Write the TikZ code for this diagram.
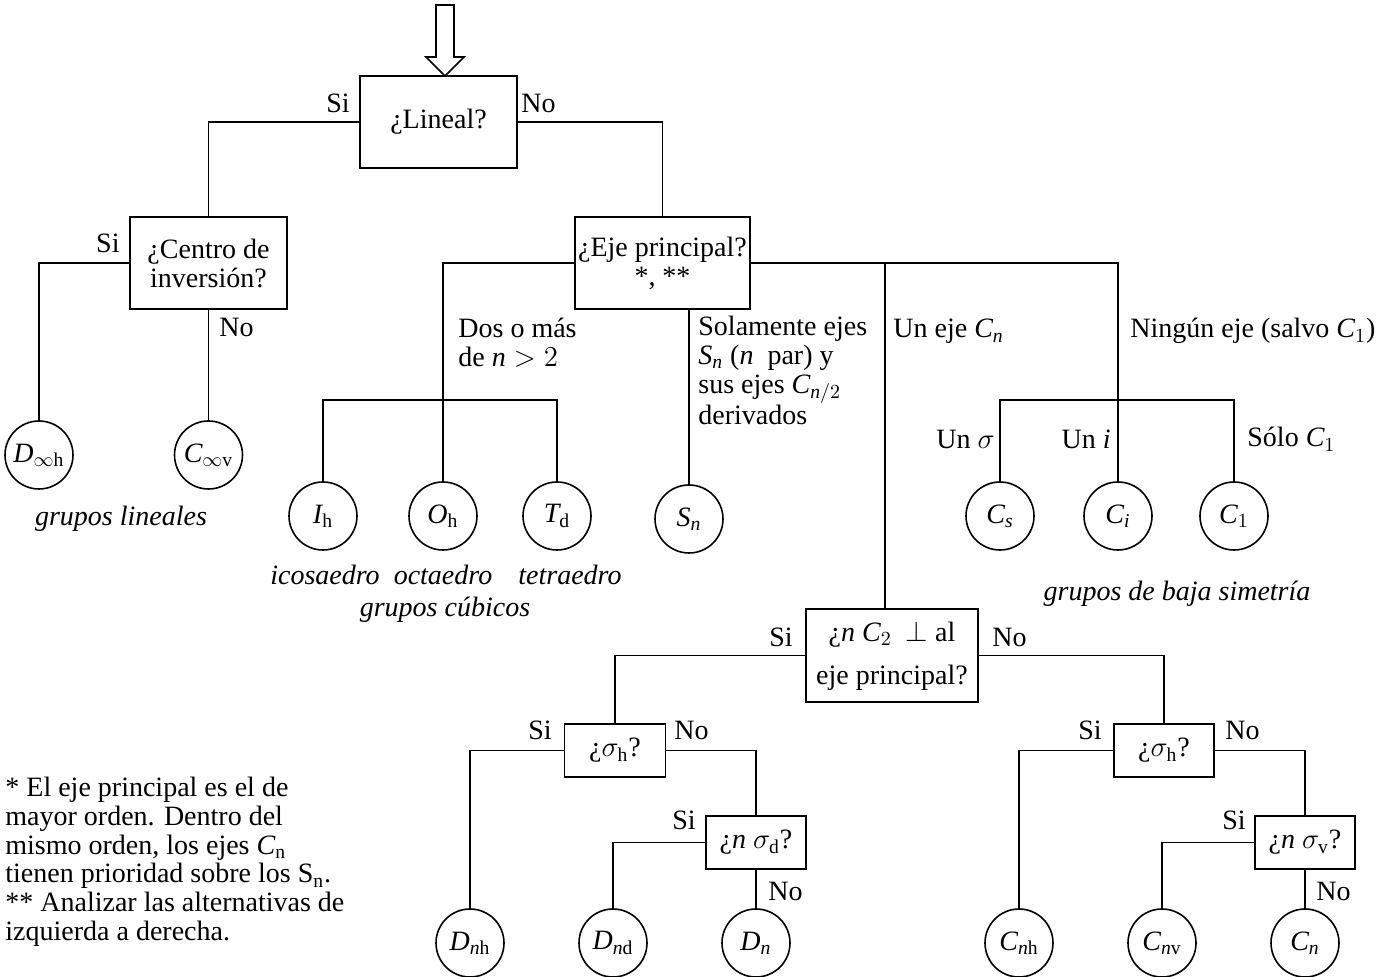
\documentclass[tikz,border=0pt]{standalone}
\usepackage{fontspec}
\setmainfont{Liberation Serif}

\tikzset{
  pregunta/.style={draw, line width=0.8pt, inner sep=1pt, align=center},
  grupo/.style={draw, circle, line width=0.8pt, minimum size=34pt, inner sep=0pt},
  rama/.style={inner sep=0pt},
  nombre/.style={inner sep=0pt, font=\fontsize{14}{14.5}\selectfont\itshape},
  linea/.style={line width=0.8pt},
}

\begin{document}
\begin{tikzpicture}[x=0.5pt, y=-0.5pt, font=\fontsize{14}{14.5}\selectfont]
\useasboundingbox (0,0) rectangle (1382,977);

		%Preguntas
		\node[pregunta, minimum width=78.5pt, minimum height=46pt] (lineal) at (438.5,122) {¿Lineal?};
		\node[pregunta, minimum width=78.5pt, minimum height=46pt] (centro) at (208.5,263) {¿Centro de\\inversión?};
		\node[pregunta, minimum width=87.5pt, minimum height=46pt] (eje) at (662.5,263) {¿Eje principal?\\*, **};
		\node[pregunta, minimum width=86pt, minimum height=46.5pt] (perp) at (892,655.5) {¿$\mathit{n}$ $\mathit{C}_2$\ \ $\perp$ al\\[7pt]eje principal?};
		\node[pregunta, minimum width=50.5pt, minimum height=26.5pt] (sigh1) at (615,750.5) {¿$\sigma_\mathrm{h}$?};
		\node[pregunta, minimum width=50pt, minimum height=26.5pt] (sigd) at (756,842.5) {¿$\mathit{n}$ $\sigma_\mathrm{d}$?};
		\node[pregunta, minimum width=50pt, minimum height=26.5pt] (sigh2) at (1164,750.5) {¿$\sigma_\mathrm{h}$?};
		\node[pregunta, minimum width=50pt, minimum height=26.5pt] (sigv) at (1305,842.5) {¿$\mathit{n}$ $\sigma_\mathrm{v}$?};

		%Flecha de entrada
		\coordinate (entrada) at (445,76);
		\draw[linea] (entrada) -- ++(-19,-19) -- ++(10,0) -- ++(0,-52) -- ++(18,0) -- ++(0,52) -- ++(10,0) -- cycle;

		%Grupos
		\node[grupo] (Dinf) at (39,455) {$\mathit{D}_{\infty\mathrm{h}}$};
		\node[grupo] (Cinf) at (208.5,455) {$\mathit{C}_{\infty\mathrm{v}}$};
		\node[grupo] (Ih) at (323,516) {$\mathit{I}_\mathrm{h}$};
		\node[grupo] (Oh) at (443,516) {$\mathit{O}_\mathrm{h}$};
		\node[grupo] (Td) at (557,516) {$\mathit{T}_\mathrm{d}$};
		\node[grupo] (Sn) at (689,519) {$\mathit{S}_{\mathit{n}}$};
		\node[grupo] (Cs) at (1000,516) {$\mathit{C}_{\mathit{s}}$};
		\node[grupo] (Ci) at (1118,516) {$\mathit{C}_{\mathit{i}}$};
		\node[grupo] (C1) at (1234,516) {$\mathit{C}_1$};
		\node[grupo] (Dnh) at (470,943) {$\mathit{D}_{\mathit{n}\mathrm{h}}$};
		\node[grupo] (Dnd) at (613,943) {$\mathit{D}_{\mathit{n}\mathrm{d}}$};
		\node[grupo] (Dn) at (756,943) {$\mathit{D}_{\mathit{n}}$};
		\node[grupo] (Cnh) at (1019,943) {$\mathit{C}_{\mathit{n}\mathrm{h}}$};
		\node[grupo] (Cnv) at (1162,943) {$\mathit{C}_{\mathit{n}\mathrm{v}}$};
		\node[grupo] (Cn) at (1305,943) {$\mathit{C}_{\mathit{n}}$};

		%Uniones
		\coordinate (cub) at (443,400);
		\coordinate (baja) at (1118,400);
		\coordinate (uneje) at (885,263);
		\draw[linea] (lineal.west) -| (centro.north);
		\draw[linea] (lineal.east) -| (eje.north);
		\draw[linea] (centro.west) -| (Dinf.north);
		\draw[linea] (centro.south) -- (Cinf.north);
		\draw[linea] (eje.west) -| (cub) -- (Oh.north);
		\draw[linea] (Ih.north) |- (cub) -| (Td.north);
		\draw[linea] (eje.south -| Sn.north) -- (Sn.north);
		\draw[linea] (eje.east) -| (baja) -- (Ci.north);
		\draw[linea] (Cs.north) |- (baja) -| (C1.north);
		\draw[linea] (uneje) -- (uneje |- perp.north);
		\draw[linea] (perp.west) -| (sigh1.north);
		\draw[linea] (perp.east) -| (sigh2.north);
		\draw[linea] (sigh1.west) -| (Dnh.north);
		\draw[linea] (sigh1.east) -| (sigd.north);
		\draw[linea] (sigd.west) -| (Dnd.north);
		\draw[linea] (sigd.south) -- (Dn.north);
		\draw[linea] (sigh2.west) -| (Cnh.north);
		\draw[linea] (sigh2.east) -| (sigv.north);
		\draw[linea] (sigv.west) -| (Cnv.north);
		\draw[linea] (sigv.south) -- (Cn.north);

		%Si / No
		\node[rama, anchor=base east] (si1) at (350,113) {Si};
		\node[rama, anchor=base west] (no1) at (521,113) {No};
		\node[rama, anchor=base east] (si2) at (120,253) {Si};
		\node[rama, anchor=base west] (no2) at (219,337) {No};
		\node[rama, anchor=base east] (si3) at (793,647) {Si};
		\node[rama, anchor=base west] (no3) at (992,647) {No};
		\node[rama, anchor=base east] (si4) at (552,740) {Si};
		\node[rama, anchor=base west] (no4) at (674,740) {No};
		\node[rama, anchor=base east] (si5) at (696,830) {Si};
		\node[rama, anchor=base west] (no5) at (768,900) {No};
		\node[rama, anchor=base east] (si6) at (1102,740) {Si};
		\node[rama, anchor=base west] (no6) at (1225,740) {No};
		\node[rama, anchor=base east] (si7) at (1246,830) {Si};
		\node[rama, anchor=base west] (no7) at (1316,900) {No};

		%Ramas del eje principal (base = ultima linea)
		\node[rama, anchor=base west, align=left] (dosomas) at (458,367) {Dos o más\\de $\mathit{n}>2$};
		\node[rama, anchor=base west, align=left] (solamente) at (698,425) {Solamente ejes\\$\mathit{S}_{\mathit{n}}$ ($\mathit{n}$\ \ par) y\\sus ejes $\mathit{C}_{\mathit{n}/2}$\\derivados};
		\node[rama, anchor=base west] (unejetxt) at (893,338) {Un eje $\mathit{C}_{\mathit{n}}$};
		\node[rama, anchor=base west] (ningun) at (1130,338) {Ningún eje (salvo $\mathit{C}_1$)};
		\node[rama, anchor=base east] (unsigma) at (995,449) {Un $\sigma$};
		\node[rama, anchor=base east] (uni) at (1111,449) {Un $\mathit{i}$};
		\node[rama, anchor=base west] (solo) at (1247,447) {Sólo $\mathit{C}_1$};

		%Familias
		\node[nombre, anchor=base] (lineales) at (121,526) {grupos lineales};
		\node[nombre, anchor=base] (icosa) at (325,585) {icosaedro};
		\node[nombre, anchor=base] (octa) at (443,585) {octaedro};
		\node[nombre, anchor=base] (tetra) at (570,585) {tetraedro};
		\node[nombre, anchor=base] (cubicos) at (445,617) {grupos cúbicos};
		\node[nombre, anchor=base] (bajasim) at (1177,601) {grupos de baja simetría};

		%Nota
		\node[rama, anchor=base west, align=left] (nota) at (5,941) {* El eje principal es el de\\mayor orden. Dentro del\\mismo orden, los ejes $\mathit{C}_\mathrm{n}$\\tienen prioridad sobre los S$_\mathrm{n}$.\\** Analizar las alternativas de\\izquierda a derecha.};
\end{tikzpicture}
\end{document}
